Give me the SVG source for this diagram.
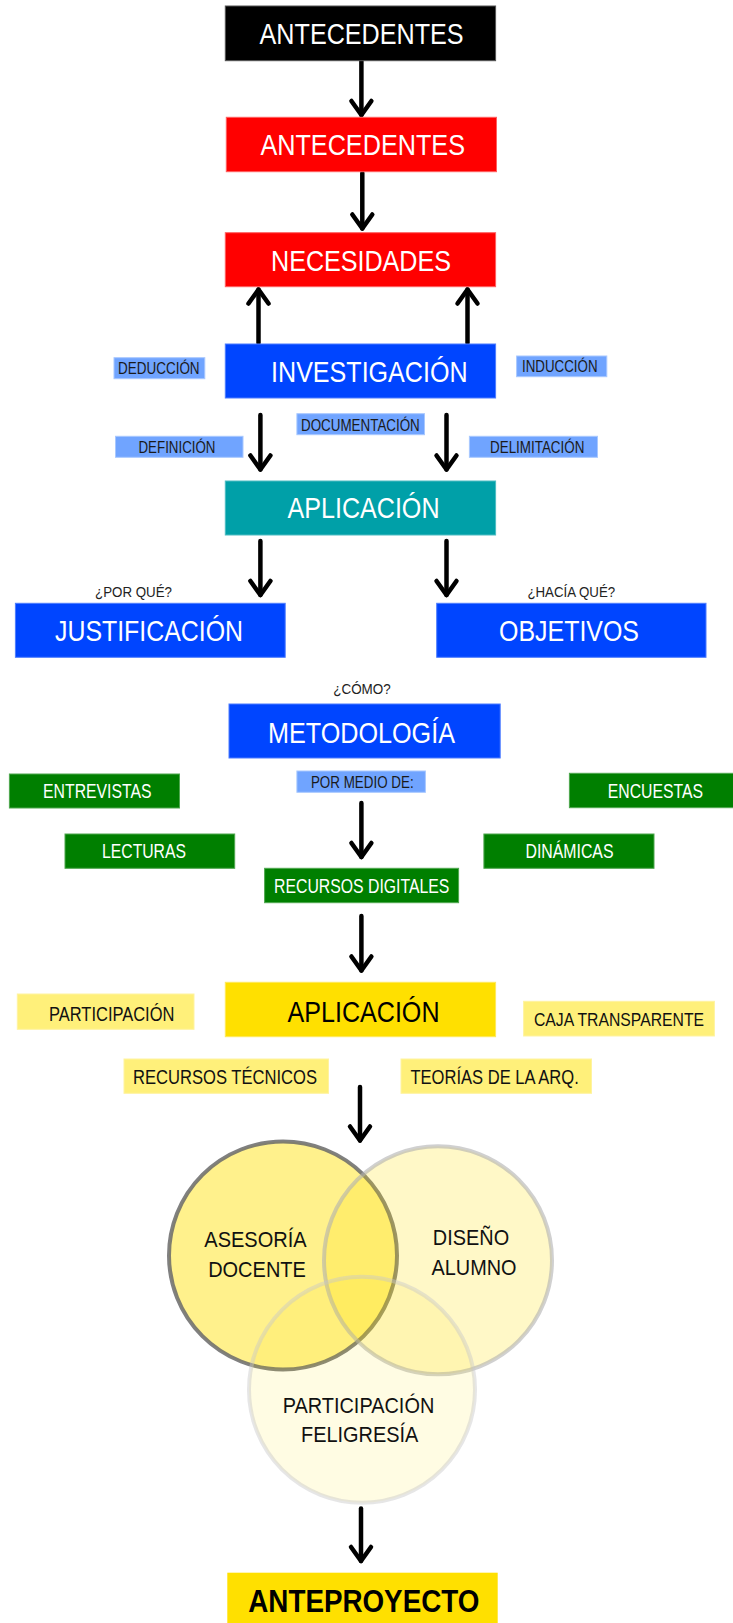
<svg xmlns="http://www.w3.org/2000/svg" width="733" height="1623" viewBox="0 0 733 1623">
<style>
  text { font-family: "Liberation Sans", Arial, sans-serif; text-anchor: middle; }
  .big { font-size: 29.5px; fill: #fff; }
  .lbl { font-size: 17px; fill: #1a1a1a; }
  .q { font-size: 15px; fill: #222; }
  .mid { font-size: 19.5px; fill: #fff; }
  .midk { font-size: 19.5px; fill: #111; }
  .venn { font-size: 22px; fill: #111; }
  .blue { fill: #0045FF; stroke: #4d7dff; stroke-width: 1; }
  .red { fill: #FF0000; stroke: #ff6060; stroke-width: 1; }
  .lb { fill: #70A4FF; stroke: #a8c8ff; stroke-width: 1; }
  .grn { fill: #007F00; stroke: #4fa84f; stroke-width: 1; }
  .yel { fill: #FFE000; stroke: #ffe95a; stroke-width: 1; }
  .ly { fill: #FFF07A; stroke: #fff3a0; stroke-width: 1; }
  .con { stroke: #000; stroke-width: 4.5; stroke-linecap: round; fill: none; }
</style>
<defs>
  <marker id="ah" markerUnits="userSpaceOnUse" orient="auto" overflow="visible" markerWidth="1" markerHeight="1" refX="0" refY="0">
    <path d="M-14,-10 L0,0 L-14,10" fill="none" stroke="#000" stroke-width="4.5" stroke-linecap="round" stroke-linejoin="round"/>
  </marker>
</defs>
<rect width="733" height="1623" fill="#fff"/>

<g id="connectors">
  <path class="con" marker-end="url(#ah)" d="M361.4,61 L361.4,115"/>
  <path class="con" marker-end="url(#ah)" d="M362.3,173 L362.3,228.5"/>
  <path class="con" marker-end="url(#ah)" d="M258.5,343 L258.5,289.5"/>
  <path class="con" marker-end="url(#ah)" d="M467.5,343 L467.5,289.5"/>
  <path class="con" marker-end="url(#ah)" d="M260.4,415 L260.4,469.5"/>
  <path class="con" marker-end="url(#ah)" d="M446.5,415 L446.5,469.5"/>
  <path class="con" marker-end="url(#ah)" d="M260.4,541 L260.4,595"/>
  <path class="con" marker-end="url(#ah)" d="M446.5,541 L446.5,595"/>
  <path class="con" marker-end="url(#ah)" d="M361.4,803 L361.4,857"/>
  <path class="con" marker-end="url(#ah)" d="M361.4,916 L361.4,970.5"/>
  <path class="con" marker-end="url(#ah)" d="M360,1087 L360,1140.5"/>
  <path class="con" marker-end="url(#ah)" d="M361,1508.5 L361,1561"/>
</g>

<g id="n-antecedentes-0">
  <rect x="225.3" y="6" width="270.3" height="54.7" fill="#000" stroke="#555" stroke-width="1"/>
  <text class="big" x="361.6" y="44" textLength="204" lengthAdjust="spacingAndGlyphs">ANTECEDENTES</text>
</g>
<g id="n-antecedentes">
  <rect class="red" x="226.3" y="117.3" width="270.2" height="54.4"/>
  <text class="big" x="362.7" y="154.7" textLength="204.6" lengthAdjust="spacingAndGlyphs">ANTECEDENTES</text>
</g>
<g id="n-necesidades">
  <rect class="red" x="225.3" y="232.7" width="270.3" height="54"/>
  <text class="big" x="361" y="270.7" textLength="180" lengthAdjust="spacingAndGlyphs">NECESIDADES</text>
</g>
<g id="n-investigacion">
  <rect class="blue" x="225.3" y="344" width="270.3" height="54"/>
  <text class="big" x="369.3" y="381.7" textLength="196.5" lengthAdjust="spacingAndGlyphs" style="font-size:30px">INVESTIGACIÓN</text>
</g>
<g id="l-deduccion">
  <rect class="lb" x="114" y="357.7" width="90.8" height="21"/>
  <text class="lbl" x="158.8" y="374" textLength="81.6" lengthAdjust="spacingAndGlyphs">DEDUCCIÓN</text>
</g>
<g id="l-induccion">
  <rect class="lb" x="516.6" y="356" width="90.2" height="20.7"/>
  <text class="lbl" x="559.8" y="371.7" textLength="75.5" lengthAdjust="spacingAndGlyphs">INDUCCIÓN</text>
</g>
<g id="l-documentacion">
  <rect class="lb" x="296.9" y="413.7" width="127.6" height="21"/>
  <text class="lbl" x="360.4" y="430.7" textLength="118.8" lengthAdjust="spacingAndGlyphs">DOCUMENTACIÓN</text>
</g>
<g id="l-definicion">
  <rect class="lb" x="115.5" y="436.3" width="127.5" height="21"/>
  <text class="lbl" x="177" y="453.3" textLength="77" lengthAdjust="spacingAndGlyphs">DEFINICIÓN</text>
</g>
<g id="l-delimitacion">
  <rect class="lb" x="469.4" y="436.3" width="128.1" height="21"/>
  <text class="lbl" x="537.2" y="453.3" textLength="94.4" lengthAdjust="spacingAndGlyphs">DELIMITACIÓN</text>
</g>
<g id="n-aplicacion-1">
  <rect x="225.3" y="481" width="270.3" height="54" fill="#00A0A8" stroke="#4cbcc2" stroke-width="1"/>
  <text class="big" x="363.5" y="518.3" textLength="152" lengthAdjust="spacingAndGlyphs">APLICACIÓN</text>
</g>
<g id="q-porque">
  <text class="q" x="133.5" y="596.6" textLength="77" lengthAdjust="spacingAndGlyphs">¿POR QUÉ?</text>
</g>
<g id="q-haciaque">
  <text class="q" x="571.3" y="597" textLength="87.8" lengthAdjust="spacingAndGlyphs">¿HACÍA QUÉ?</text>
</g>
<g id="n-justificacion">
  <rect class="blue" x="15.4" y="603.3" width="269.8" height="54"/>
  <text class="big" x="149" y="640.7" textLength="188" lengthAdjust="spacingAndGlyphs">JUSTIFICACIÓN</text>
</g>
<g id="n-objetivos">
  <rect class="blue" x="436.7" y="603.3" width="269.3" height="54"/>
  <text class="big" x="569" y="640.7" textLength="140" lengthAdjust="spacingAndGlyphs">OBJETIVOS</text>
</g>
<g id="q-como">
  <text class="q" x="362" y="694" textLength="57.5" lengthAdjust="spacingAndGlyphs">¿CÓMO?</text>
</g>
<g id="n-metodologia">
  <rect class="blue" x="229" y="704" width="271.2" height="54"/>
  <text class="big" x="361.5" y="742.7" textLength="187" lengthAdjust="spacingAndGlyphs">METODOLOGÍA</text>
</g>
<g id="l-pormedio">
  <rect class="lb" x="296.9" y="771" width="128.5" height="21.3"/>
  <text class="lbl" x="362.3" y="788.3" textLength="102.7" lengthAdjust="spacingAndGlyphs">POR MEDIO DE:</text>
</g>
<g id="n-entrevistas">
  <rect class="grn" x="9.4" y="774" width="170.1" height="34"/>
  <text class="mid" x="97.3" y="798.3" textLength="108.5" lengthAdjust="spacingAndGlyphs">ENTREVISTAS</text>
</g>
<g id="n-encuestas">
  <rect class="grn" x="569.4" y="773.3" width="165" height="34.4"/>
  <text class="mid" x="655.4" y="797.7" textLength="95.2" lengthAdjust="spacingAndGlyphs">ENCUESTAS</text>
</g>
<g id="n-lecturas">
  <rect class="grn" x="65" y="834" width="169.7" height="34.3"/>
  <text class="mid" x="144" y="858.3" textLength="84" lengthAdjust="spacingAndGlyphs">LECTURAS</text>
</g>
<g id="n-dinamicas">
  <rect class="grn" x="483.9" y="834" width="170.1" height="34.3"/>
  <text class="mid" x="569.5" y="858.3" textLength="88" lengthAdjust="spacingAndGlyphs">DINÁMICAS</text>
</g>
<g id="n-recursos-digitales">
  <rect class="grn" x="264.6" y="868.3" width="194" height="34.4"/>
  <text class="mid" x="361.7" y="892.7" textLength="175.3" lengthAdjust="spacingAndGlyphs">RECURSOS DIGITALES</text>
</g>
<g id="n-aplicacion-2">
  <rect class="yel" x="225.3" y="982.3" width="270.3" height="54.4"/>
  <text class="big" x="363.5" y="1021.7" textLength="152" lengthAdjust="spacingAndGlyphs" style="fill:#000">APLICACIÓN</text>
</g>
<g id="n-participacion">
  <rect class="ly" x="17.3" y="994" width="176.7" height="35.3"/>
  <text class="midk" x="111.7" y="1020.7" textLength="125.4" lengthAdjust="spacingAndGlyphs">PARTICIPACIÓN</text>
</g>
<g id="n-caja">
  <rect class="ly" x="523.6" y="1001.3" width="190.8" height="34.7"/>
  <text class="midk" x="619" y="1025.5" textLength="170" lengthAdjust="spacingAndGlyphs" style="font-size:18.5px">CAJA TRANSPARENTE</text>
</g>
<g id="n-recursos-tecnicos">
  <rect class="ly" x="124" y="1059" width="204.5" height="34.3"/>
  <text class="midk" x="225" y="1084.3" textLength="184" lengthAdjust="spacingAndGlyphs">RECURSOS TÉCNICOS</text>
</g>
<g id="n-teorias">
  <rect class="ly" x="401" y="1059" width="190.5" height="34.3"/>
  <text class="midk" x="494.6" y="1084.3" textLength="168.3" lengthAdjust="spacingAndGlyphs">TEORÍAS DE LA ARQ.</text>
</g>

<g id="n-asesoria">
  <circle cx="283" cy="1255.5" r="114" fill="#FFE000" fill-opacity="0.45" stroke="#6a6a6a" stroke-opacity="0.85" stroke-width="4"/>
</g>
<g id="n-diseno">
  <circle cx="438" cy="1260.3" r="114" fill="#FFE000" fill-opacity="0.22" stroke="#b0b0b0" stroke-opacity="0.6" stroke-width="4"/>
</g>
<g id="n-feligresia">
  <circle cx="362" cy="1389.7" r="113" fill="#FFE000" fill-opacity="0.11" stroke="#c8c8c8" stroke-opacity="0.45" stroke-width="4"/>
</g>
<g id="venn-text">
  <text class="venn" x="255.5" y="1246.7" textLength="102.4" lengthAdjust="spacingAndGlyphs">ASESORÍA</text>
  <text class="venn" x="257" y="1276.7" textLength="97.7" lengthAdjust="spacingAndGlyphs">DOCENTE</text>
  <text class="venn" x="471" y="1245" textLength="76.3" lengthAdjust="spacingAndGlyphs">DISEÑO</text>
  <text class="venn" x="474" y="1275" textLength="85" lengthAdjust="spacingAndGlyphs">ALUMNO</text>
  <text class="venn" x="358.5" y="1412.7" textLength="151.6" lengthAdjust="spacingAndGlyphs">PARTICIPACIÓN</text>
  <text class="venn" x="359.7" y="1441.7" textLength="117.3" lengthAdjust="spacingAndGlyphs">FELIGRESÍA</text>
</g>

<g id="n-anteproyecto">
  <rect x="227.3" y="1572.7" width="270.4" height="52" fill="#FFE000"/>
  <text x="363.8" y="1611.7" textLength="231" lengthAdjust="spacingAndGlyphs" style="font-size:31px;font-weight:bold;fill:#000">ANTEPROYECTO</text>
</g>
</svg>
